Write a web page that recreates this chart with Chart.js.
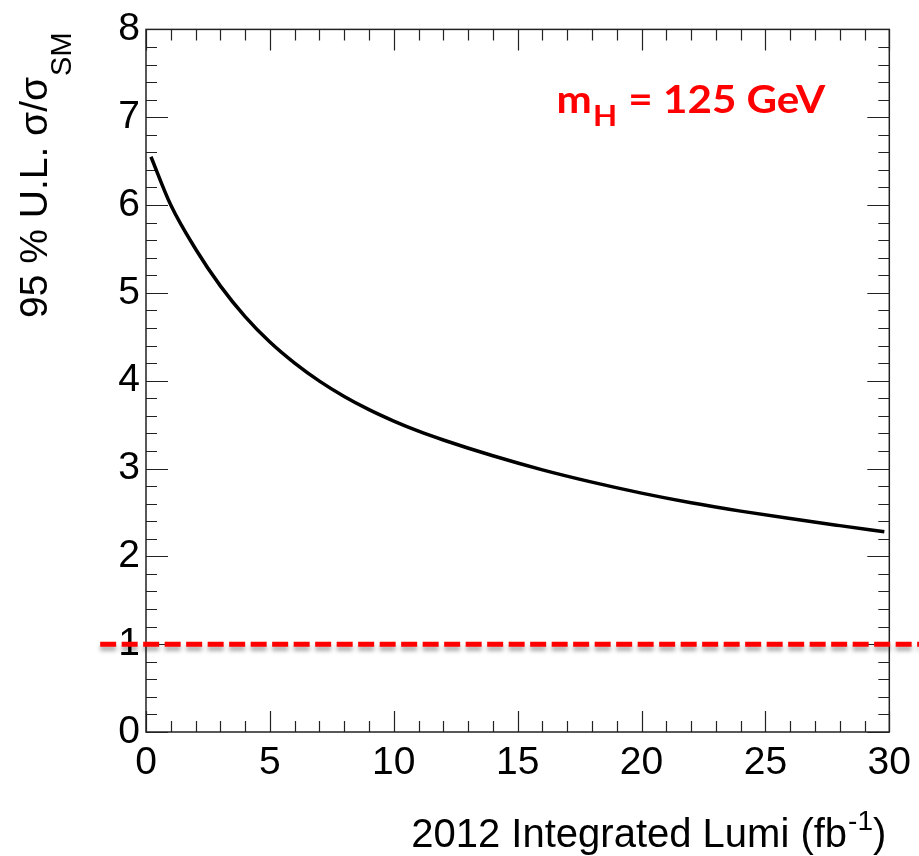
<!DOCTYPE html>
<html lang="en">
<head>
    <meta charset="UTF-8">
    <title>95% UL vs 2012 luminosity</title>
    <script src="https://cdn.jsdelivr.net/npm/chart.js"></script>
    <style>
        body { margin: 0; background: #fff; }
        #plot { display: block; }
    </style>
</head>
<body>
    <canvas id="plot" width="919" height="856"></canvas>
<script>

    // expected limit vs luminosity
    const lumi  = [0.2, 1, 2, 3, 4, 5, 6, 7, 8, 9, 10, 11, 12, 14, 16, 18, 20, 22, 24, 26, 28, 29.8];
    const limit = [6.55, 6.0, 5.50, 5.08, 4.73, 4.44, 4.20, 3.995, 3.82, 3.67, 3.54, 3.425, 3.325, 3.145, 2.985, 2.845, 2.72, 2.61, 2.515, 2.43, 2.35, 2.28];

    // SM reference line (mu = 1), runs past the frame on both sides
    const refLumi  = [-1.85, 31.2];
    const refLevel = [1, 1];

    const xRange = [0, 30];
    const yRange = [0, 8];
    const label = { x: 16.57, y: 7.05 };   // where "m_H = 125 GeV" sits

    const axisFont = '"Liberation Sans", Arial, sans-serif';

    // ROOT style frame: ticks pointing inwards on all four sides
    const rootFrame = {
        id: 'rootFrame',
        beforeDatasetsDraw(chart) {
            const ctx = chart.ctx;
            const a = chart.chartArea;
            const xs = chart.scales.x, ys = chart.scales.y;
            ctx.save();
            ctx.strokeStyle = '#222';
            ctx.lineWidth = 1.5;
            ctx.strokeRect(a.left, a.top, a.right - a.left, a.bottom - a.top);
            ctx.lineWidth = 1.2;
            ctx.beginPath();
            for (let i = 0; i <= 30; i++) {
                const px = Math.round(xs.getPixelForValue(i)) + 0.5;
                const len = i % 5 === 0 ? 21 : 11;
                ctx.moveTo(px, a.bottom); ctx.lineTo(px, a.bottom - len);
                ctx.moveTo(px, a.top);    ctx.lineTo(px, a.top + len);
            }
            for (let i = 0; i <= 40; i++) {
                const py = Math.round(ys.getPixelForValue(i / 5)) + 0.5;
                const len = i % 5 === 0 ? 22 : 11;
                ctx.moveTo(a.left, py);  ctx.lineTo(a.left + len, py);
                ctx.moveTo(a.right, py); ctx.lineTo(a.right - len, py);
            }
            ctx.stroke();
            ctx.restore();
        },
        beforeDatasetDraw(chart, args) {
            if (args.index !== 1) return;
            const ctx = chart.ctx;
            ctx.save();
            ctx.shadowColor = 'rgba(0,0,0,0.35)';
            ctx.shadowBlur = 4;
            ctx.shadowOffsetY = 4;
        },
        afterDatasetDraw(chart, args) {
            if (args.index !== 1) return;
            chart.ctx.restore();
        },
        afterDraw(chart) {
            const ctx = chart.ctx;
            const a = chart.chartArea;
            const xs = chart.scales.x, ys = chart.scales.y;
            ctx.save();
            ctx.fillStyle = '#000';
            ctx.textBaseline = 'alphabetic';

            // x title with superscript
            ctx.font = '40px ' + axisFont;
            const closeW = ctx.measureText(')').width;
            ctx.font = '28px ' + axisFont;
            const supW = ctx.measureText('-1').width;
            ctx.font = '40px ' + axisFont;
            const mainTxt = '2012 Integrated Lumi (fb';
            const mainW = ctx.measureText(mainTxt).width;
            let xr = a.right - 3;
            let x0 = xr - closeW - supW - 1 - mainW;
            ctx.fillText(mainTxt, x0, 847);
            ctx.font = '28px ' + axisFont;
            ctx.fillText('-1', x0 + mainW + 1, 830);
            ctx.font = '40px ' + axisFont;
            ctx.fillText(')', x0 + mainW + 1 + supW, 847);

            // y title with subscript, rotated
            ctx.save();
            ctx.translate(47, 318);
            ctx.rotate(-Math.PI / 2);
            ctx.font = '39px ' + axisFont;
            const yt = '95 % U.L. \u03c3/\u03c3';
            ctx.fillText(yt, 0, 0);
            const ytw = ctx.measureText(yt).width;
            ctx.font = '29px ' + axisFont;
            ctx.fillText('SM', ytw + 1, 24);
            ctx.restore();

            // m_H label, stretched a little to match the wider original face
            const lx = xs.getPixelForValue(label.x);
            const ly = ys.getPixelForValue(label.y);
            ctx.save();
            ctx.translate(lx, ly);
            ctx.scale(1.08, 1);
            ctx.fillStyle = '#ff0000';
            ctx.font = 'bold 39px Lato, sans-serif';
            ctx.fillText('m', 0, 0);
            const mw = ctx.measureText('m').width;
            ctx.font = 'bold 29px Lato, sans-serif';
            ctx.fillText('H', mw + 1, 13);
            const hw = ctx.measureText('H').width;
            ctx.font = 'bold 39px Lato, sans-serif';
            ctx.fillText(' = 125 GeV', mw + hw + 2, 0);
            ctx.restore();
            ctx.restore();
        }
    };

    const chart = new Chart(document.getElementById('plot'), {
        type: 'scatter',
        data: {
            datasets: [
                {
                    data: lumi.map((v, i) => ({ x: v, y: limit[i] })),
                    showLine: true,
                    borderColor: '#000',
                    borderWidth: 3.5,
                    pointRadius: 0,
                    cubicInterpolationMode: 'monotone'
                },
                {
                    data: refLumi.map((v, i) => ({ x: v, y: refLevel[i] })),
                    showLine: true,
                    borderColor: '#ff0000',
                    borderWidth: 5,
                    borderDash: [16, 5.5],
                    pointRadius: 0,
                    clip: false
                }
            ]
        },
        options: {
            responsive: false,
            animation: false,
            layout: { padding: { top: 25, right: 29, left: 0, bottom: 0 } },
            plugins: { legend: { display: false }, tooltip: { enabled: false } },
            scales: {
                x: {
                    type: 'linear',
                    min: xRange[0], max: xRange[1],
                    grid: { display: false, drawTicks: false },
                    border: { display: false },
                    ticks: { stepSize: 5, color: '#000', padding: 8, maxRotation: 0,
                             font: { family: axisFont, size: 39 } },
                    afterFit(s) { s.height = 124; }
                },
                y: {
                    min: yRange[0], max: yRange[1],
                    grid: { display: false, drawTicks: false },
                    border: { display: false },
                    ticks: { stepSize: 1, color: '#000', padding: 6,
                             font: { family: axisFont, size: 39 } },
                    afterFit(s) { s.width = 146; }
                }
            }
        },
        plugins: [rootFrame]
    });

</script>
</body>
</html>
